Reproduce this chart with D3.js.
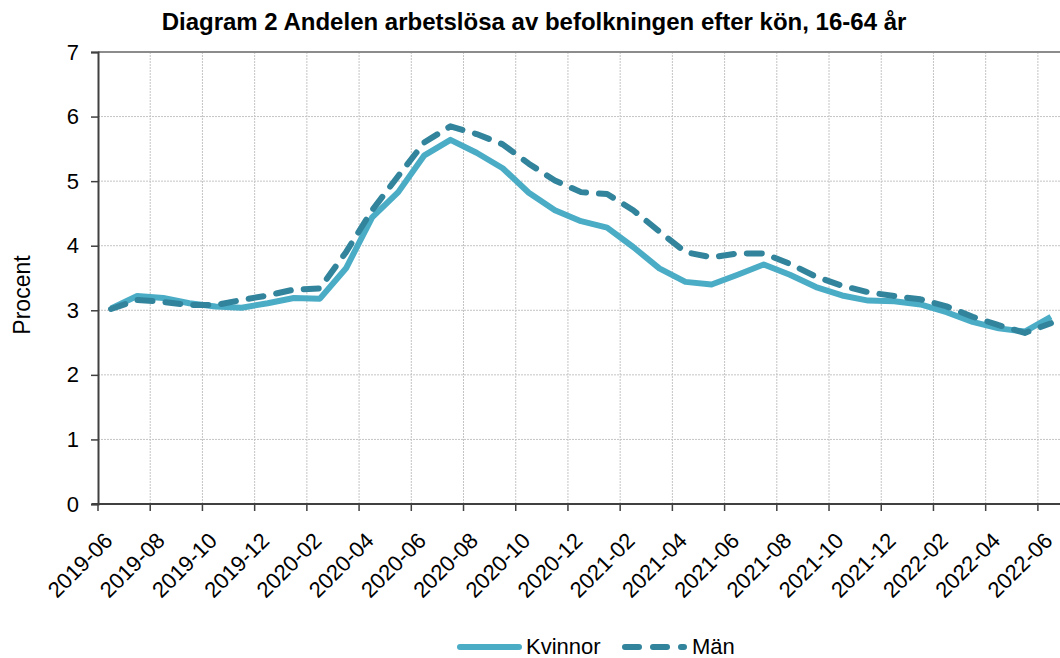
<!DOCTYPE html>
<html>
<head>
<meta charset="utf-8">
<script src="https://cdn.jsdelivr.net/npm/d3@7"></script>
<style>
  body { margin: 0; background: #fff; }
  svg { font-family: Arial, "Liberation Sans", sans-serif; }
</style>
</head>
<body>
<div id="chart"></div>
<script>
// months, 2019-06 .. 2022-06
var months = ["2019-06","2019-07","2019-08","2019-09","2019-10","2019-11","2019-12",
  "2020-01","2020-02","2020-03","2020-04","2020-05","2020-06","2020-07","2020-08",
  "2020-09","2020-10","2020-11","2020-12","2021-01","2021-02","2021-03","2021-04",
  "2021-05","2021-06","2021-07","2021-08","2021-09","2021-10","2021-11","2021-12",
  "2022-01","2022-02","2022-03","2022-04","2022-05","2022-06"];

var kvinnor = [3.03,3.22,3.19,3.11,3.06,3.04,3.11,3.19,3.18,3.65,4.44,4.83,5.40,
  5.64,5.44,5.20,4.82,4.55,4.38,4.28,3.98,3.65,3.44,3.40,3.55,3.71,3.55,3.36,
  3.23,3.15,3.14,3.09,2.97,2.82,2.72,2.67,2.90];

var man = [3.02,3.16,3.13,3.08,3.08,3.16,3.23,3.32,3.34,3.90,4.55,5.08,5.60,
  5.85,5.73,5.57,5.27,5.01,4.83,4.80,4.55,4.22,3.90,3.82,3.88,3.88,3.72,3.52,
  3.38,3.28,3.22,3.17,3.06,2.90,2.77,2.65,2.80];

var yTicks = [0,1,2,3,4,5,6,7];
// every second month gets a tick / label
var xTickLabels = months.filter(function(d,i){ return i % 2 == 0; });

var W = 1060, H = 658;
var margin = {top: 52, left: 98};
var plotRight = 1064, plotBottom = 504;
var font = "Arial, 'Liberation Sans', sans-serif";

var svg = d3.select("#chart").append("svg")
  .attr("width", W).attr("height", H);

var x = d3.scaleBand().domain(months).range([margin.left, plotRight]);
var y = d3.scaleLinear().domain([0, 7]).range([plotBottom, margin.top]);

// gridlines
svg.append("g").selectAll("line")
  .data(yTicks.slice(1, -1))
  .enter().append("line")
    .attr("x1", margin.left).attr("x2", plotRight)
    .attr("y1", function(d){ return y(d); })
    .attr("y2", function(d){ return y(d); })
    .attr("stroke", "#c4c4c4").attr("stroke-width", 1)
    .attr("stroke-dasharray", "2,1");

svg.append("g").selectAll("line")
  .data(xTickLabels.slice(1))
  .enter().append("line")
    .attr("x1", function(d){ return x(d); })
    .attr("x2", function(d){ return x(d); })
    .attr("y1", margin.top).attr("y2", plotBottom)
    .attr("stroke", "#c4c4c4").attr("stroke-width", 1)
    .attr("stroke-dasharray", "2,1");

// top border
svg.append("line")
  .attr("x1", margin.left).attr("x2", plotRight)
  .attr("y1", margin.top).attr("y2", margin.top)
  .attr("stroke", "#8c8c8c").attr("stroke-width", 2);

// y axis
var yAxis = svg.append("g")
  .attr("transform", "translate(" + margin.left + ",0)")
  .call(d3.axisLeft(y).tickValues(yTicks).tickSize(7).tickPadding(12).tickFormat(d3.format("d")));
yAxis.select(".domain").attr("stroke", "#404040").attr("stroke-width", 2);
yAxis.selectAll(".tick line").attr("stroke", "#404040").attr("stroke-width", 1.5);
yAxis.selectAll(".tick text").attr("font-size", 22).attr("fill", "#000")
  .style("font-family", font);

// x axis
var xAxis = svg.append("g")
  .attr("transform", "translate(0," + plotBottom + ")")
  .call(d3.axisBottom(x).tickValues(xTickLabels).tickSize(0));
xAxis.select(".domain").remove();
xAxis.selectAll(".tick line").remove();
xAxis.append("line")
  .attr("x1", margin.left - 6).attr("x2", plotRight)
  .attr("stroke", "#404040").attr("stroke-width", 2);
xAxis.selectAll(".tick").attr("transform", function(d){
    return "translate(" + x(d) + ",0)";
  });
xAxis.selectAll(".tick").append("line")
  .attr("y1", 0).attr("y2", 7)
  .attr("stroke", "#404040").attr("stroke-width", 1.5);
xAxis.selectAll(".tick text")
  .attr("font-size", 22).attr("fill", "#000")
  .style("font-family", font)
  .attr("text-anchor", "end")
  .attr("dy", 0)
  .attr("y", 0)
  .attr("transform", "translate(16,38) rotate(-45)");

// lines
var line = function(vals) {
  return d3.line()
    .x(function(d, i){ return x(months[i]) + x.bandwidth() / 2; })
    .y(function(d){ return y(d); })(vals);
};

svg.append("path")
  .attr("d", line(kvinnor))
  .attr("fill", "none")
  .attr("stroke", "#4BACC6").attr("stroke-width", 6)
  .attr("stroke-linejoin", "round");

svg.append("path")
  .attr("d", line(man))
  .attr("fill", "none")
  .attr("stroke", "#31849B").attr("stroke-width", 6)
  .attr("stroke-dasharray", "15,13")
  .attr("stroke-linecap", "round")
  .attr("stroke-linejoin", "round");

// title
svg.append("text")
  .attr("x", 534).attr("y", 30)
  .attr("text-anchor", "middle")
  .attr("font-size", 24).attr("font-weight", "bold")
  .text("Diagram 2 Andelen arbetslösa av befolkningen efter kön, 16-64 år");

// y label
svg.append("text")
  .attr("transform", "translate(30,295) rotate(-90)")
  .attr("text-anchor", "middle")
  .attr("font-size", 23)
  .text("Procent");

// legend
var legend = svg.append("g");
legend.append("line")
  .attr("x1", 460).attr("x2", 519).attr("y1", 647).attr("y2", 647)
  .attr("stroke", "#4BACC6").attr("stroke-width", 6).attr("stroke-linecap", "round");
legend.append("text")
  .attr("x", 526).attr("y", 654).attr("font-size", 22).text("Kvinnor");
legend.append("line")
  .attr("x1", 625).attr("x2", 684).attr("y1", 647).attr("y2", 647)
  .attr("stroke", "#31849B").attr("stroke-width", 6).attr("stroke-linecap", "round")
  .attr("stroke-dasharray", "14,14");
legend.append("text")
  .attr("x", 692).attr("y", 654).attr("font-size", 22).text("Män");
</script>
</body>
</html>
